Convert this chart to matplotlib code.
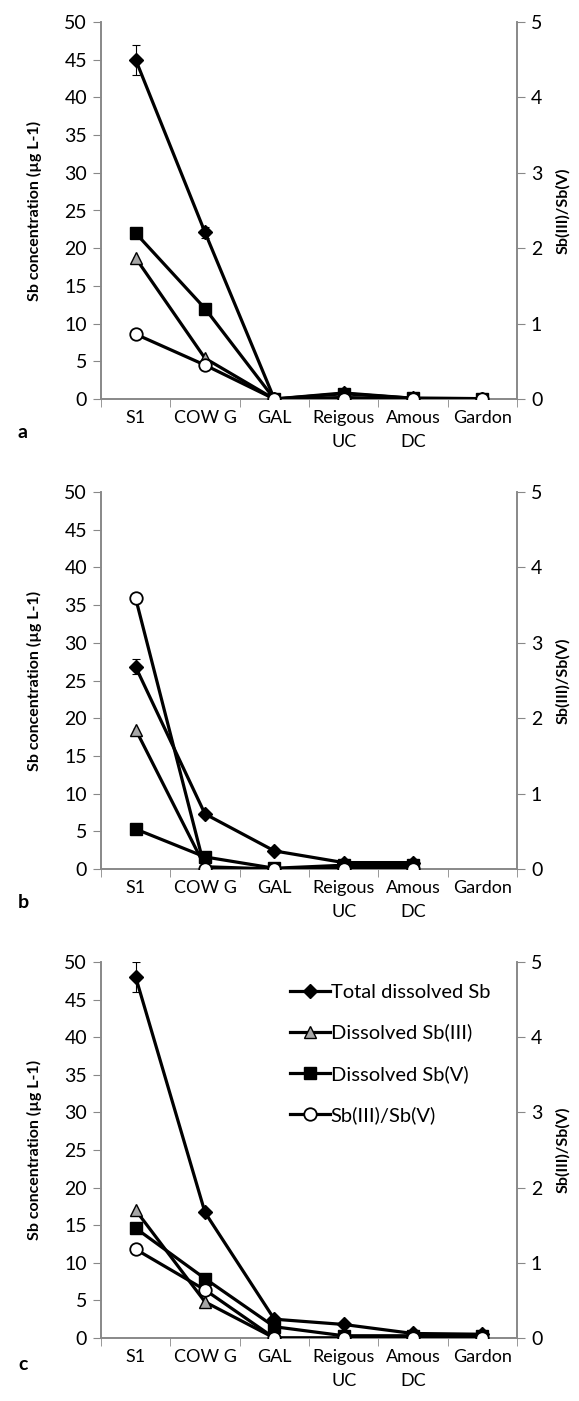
import matplotlib.pyplot as plt
import numpy as np

plt.rcParams['font.family'] = ['Lato', 'DejaVu Sans']

sites = ["S1", "COW G", "GAL", "Reigous\nUC", "Amous\nDC", "Gardon"]

# panel a
a_total = [45.0, 22.1, 0.0, 0.8, 0.1, 0.05]
a_total_err = [2.0, 0.7, 0, 0, 0, 0]
a_sb3 = [18.7, 5.4, 0.0, 0.2, 0.0, 0.0]
a_sb5 = [22.0, 12.0, 0.0, 0.7, 0.1, 0.05]
a_ratio = [0.86, 0.45, 0.0, 0.0, 0.0, 0.0]

# panel b (no Gardon sample)
b_total = [26.8, 7.3, 2.4, 0.85, 0.85, np.nan]
b_total_err = [1.0, 0, 0, 0, 0, 0]
b_sb3 = [18.5, 0.3, 0.0, 0.2, 0.2, np.nan]
b_sb5 = [5.3, 1.6, 0.1, 0.5, 0.5, np.nan]
b_ratio = [3.59, 0.0, 0.0, 0.0, 0.0, np.nan]

# panel c
c_total = [48.0, 16.7, 2.5, 1.8, 0.6, 0.5]
c_total_err = [2.0, 0, 0, 0, 0, 0]
c_sb3 = [17.0, 4.8, 0.0, 0.0, 0.2, 0.2]
c_sb5 = [14.6, 7.9, 1.5, 0.3, 0.3, 0.3]
c_ratio = [1.18, 0.64, 0.0, 0.0, 0.0, 0.0]

panels = [
    ("a", a_total, a_total_err, a_sb3, a_sb5, a_ratio),
    ("b", b_total, b_total_err, b_sb3, b_sb5, b_ratio),
    ("c", c_total, c_total_err, c_sb3, c_sb5, c_ratio),
]

W, H = 579, 1401
fig = plt.figure(figsize=(W / 100, H / 100), dpi=100)
ax_left, ax_right = 101, 517
tops = [22, 492, 962]
bottoms = [399, 869, 1338]
letter_y = [432, 902, 1364]

GRAY = "#888888"
x = np.arange(len(sites))
lw = 2.3

for (tag, tot, err, s3, s5, ratio), top, bot, ly in zip(panels, tops, bottoms, letter_y):
    ax = fig.add_axes([ax_left / W, 1 - bot / H, (ax_right - ax_left) / W, (bot - top) / H])
    ax2 = ax.twinx()

    err_arr = np.array(err, dtype=float)
    err_arr[err_arr == 0] = np.nan
    ax.errorbar(x, tot, yerr=err_arr, fmt="none", ecolor="black",
                elinewidth=0.8, capsize=3, capthick=0.8, zorder=2)
    ax.plot(x, tot, color="black", lw=lw, marker="D", ms=7.5,
            mfc="black", mec="black", label="Total dissolved Sb", zorder=3)
    ax.plot(x, s3, color="black", lw=lw, marker="^", ms=9,
            mfc="#a6a6a6", mec="black", mew=1, label="Dissolved Sb(III)", zorder=3)
    ax.plot(x, s5, color="black", lw=lw, marker="s", ms=9,
            mfc="black", mec="black", label="Dissolved Sb(V)", zorder=3)
    ax2.plot(x, ratio, color="black", lw=lw, marker="o", ms=9,
             mfc="white", mec="black", mew=1.3, label="Sb(III)/Sb(V)", zorder=4)

    ax.set_xlim(-0.5, 5.5)
    ax.set_ylim(0, 50)
    ax2.set_ylim(0, 5)
    ax.set_yticks(np.arange(0, 51, 5))
    ax2.set_yticks(np.arange(0, 6, 1))
    ax.set_xticks(x)
    ax.set_xticklabels(sites, linespacing=1.6)
    ax.set_xticks(np.arange(-0.5, 6, 1), minor=True)
    ax.tick_params(axis="x", which="major", length=0, labelsize=13, pad=8)
    ax.tick_params(axis="x", which="minor", length=6, color=GRAY, direction="out")
    ax.tick_params(axis="y", length=6, color=GRAY, labelsize=14, direction="out", pad=4)
    ax2.tick_params(axis="y", length=6, color=GRAY, labelsize=14, direction="out", pad=4)
    for a in (ax, ax2):
        a.spines["top"].set_visible(False)
        for s in ("left", "right", "bottom"):
            a.spines[s].set_color(GRAY)
            a.spines[s].set_linewidth(1.2)
    ax.set_ylabel("Sb concentration (µg L-1)", fontsize=11.5, fontweight="bold", labelpad=16)
    ax2.set_ylabel("Sb(III)/Sb(V)", fontsize=11.5, fontweight="bold", rotation=90, labelpad=10)
    fig.text(18 / W, 1 - ly / H, tag, fontsize=14, fontweight="bold", va="center")

    if tag == "c":
        h1, l1 = ax.get_legend_handles_labels()
        h2, l2 = ax2.get_legend_handles_labels()
        ax2.legend(h1 + h2, l1 + l2, loc="upper right", frameon=False, fontsize=14.5,
                   handlelength=2.0, handletextpad=0.05, labelspacing=1.15,
                   borderaxespad=0.2, bbox_to_anchor=(0.965, 0.975))

fig.savefig("out.png", dpi=100)
